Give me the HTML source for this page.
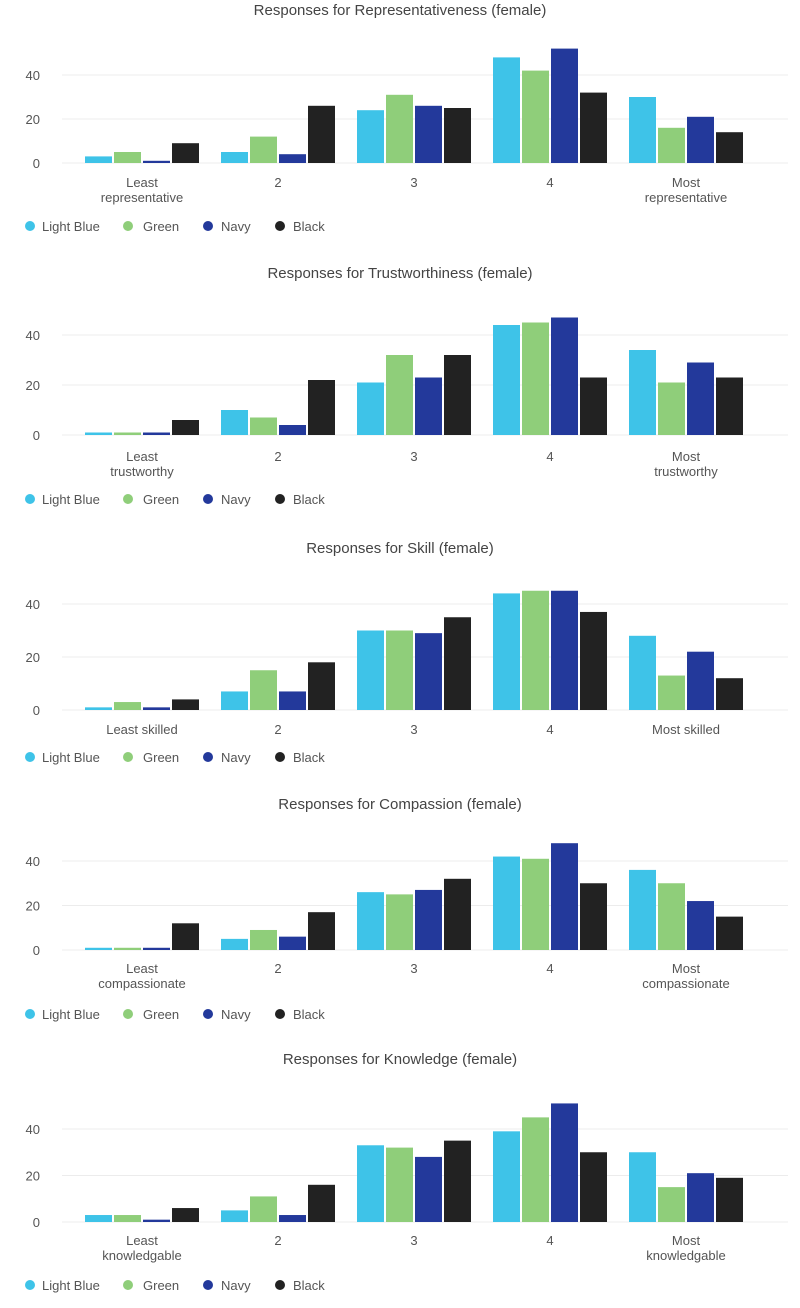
<!DOCTYPE html>
<html><head><meta charset="utf-8"><style>
body{margin:0;background:#fff;width:800px;height:1308px;overflow:hidden}
svg{display:block;font-family:"Liberation Sans",sans-serif}
</style></head><body>
<svg id="c" width="800" height="1308" viewBox="0 0 800 1308"></svg>
<script>
const seriesNames=["Light Blue","Green","Navy","Black"];
const seriesColors=["#3ec3e8","#8fce7a","#23399b","#222222"];
const titles=["Responses for Representativeness (female)","Responses for Trustworthiness (female)","Responses for Skill (female)","Responses for Compassion (female)","Responses for Knowledge (female)"];
const firstLabels=[["Least","representative"],["Least","trustworthy"],["Least skilled"],["Least","compassionate"],["Least","knowledgable"]];
const lastLabels=[["Most","representative"],["Most","trustworthy"],["Most skilled"],["Most","compassionate"],["Most","knowledgable"]];
const yTicks=[0,20,40];
const rep=[[3,5,24,48,30],[5,12,31,42,16],[1,4,26,52,21],[9,26,25,32,14]];
const trust=[[1,10,21,44,34],[1,7,32,45,21],[1,4,23,47,29],[6,22,32,23,23]];
const skill=[[1,7,30,44,28],[3,15,30,45,13],[1,7,29,45,22],[4,18,35,37,12]];
const comp=[[1,5,26,42,36],[1,9,25,41,30],[1,6,27,48,22],[12,17,32,30,15]];
const know=[[3,5,33,39,30],[3,11,32,45,15],[1,3,28,51,21],[6,16,35,30,19]];
const datasets=[rep,trust,skill,comp,know];
const layout=[[10,163,75,182,226],[273,435,335,456,499],[548,710,604,729,757],[804,950,861,968,1014],[1059,1222,1129,1240,1285]];
const svg=document.getElementById('c');
const NS="http://www.w3.org/2000/svg";
function mk(t,a,p){const e=document.createElementNS(NS,t);for(const k in a)e.setAttribute(k,a[k]);(p||svg).appendChild(e);return e;}
const groupX=g=>142+g*136;
datasets.forEach((data,ci)=>{
  const [ty,y0,y40,ly,lgy]=layout[ci];
  const yS=v=>y0-(y0-y40)*v/40;
  const g=mk('g',{});
  
  
  const t=mk('text',{x:400,y:ty+5,'text-anchor':'middle','font-size':15,fill:'#444'},g);
  
  
  t.textContent=titles[ci];
  yTicks.forEach(v=>{
    const l=mk('line',{x1:62,x2:788,y1:yS(v),y2:yS(v),stroke:'#ececec','stroke-width':1},g);
    
    
    const tt=mk('text',{x:40,y:yS(v)+5,'text-anchor':'end','font-size':13,fill:'#555'},g);
    
    
    tt.textContent=v;
  });
  const cats=[firstLabels[ci],["2"],["3"],["4"],lastLabels[ci]];
  cats.forEach((lines,gi)=>{
    lines.forEach((s,li)=>{
      const tx=mk('text',{x:groupX(gi),y:ly+5+li*15,'text-anchor':'middle','font-size':13,fill:'#555'},g);
      
      
      tx.textContent=s;
    });
  });
  data.forEach((vals,si)=>{
    vals.forEach((v,gi)=>{
      const x=groupX(gi)-57+si*29;
      const r=mk('rect',{x:x,y:yS(v),width:27,height:y0-yS(v),fill:seriesColors[si]},g);
      
      
    });
  });
  const lx=[30,128,208,280];
  const tOff=[12,15,13,13];
  seriesNames.forEach((n,si)=>{
    const c=mk('circle',{cx:lx[si],cy:lgy,r:5,fill:seriesColors[si]},g);
    
    
    const tx=mk('text',{x:lx[si]+tOff[si],y:lgy+5,'font-size':13,fill:'#555'},g);
    
    
    tx.textContent=n;
  });
});
</script>
</body></html>
